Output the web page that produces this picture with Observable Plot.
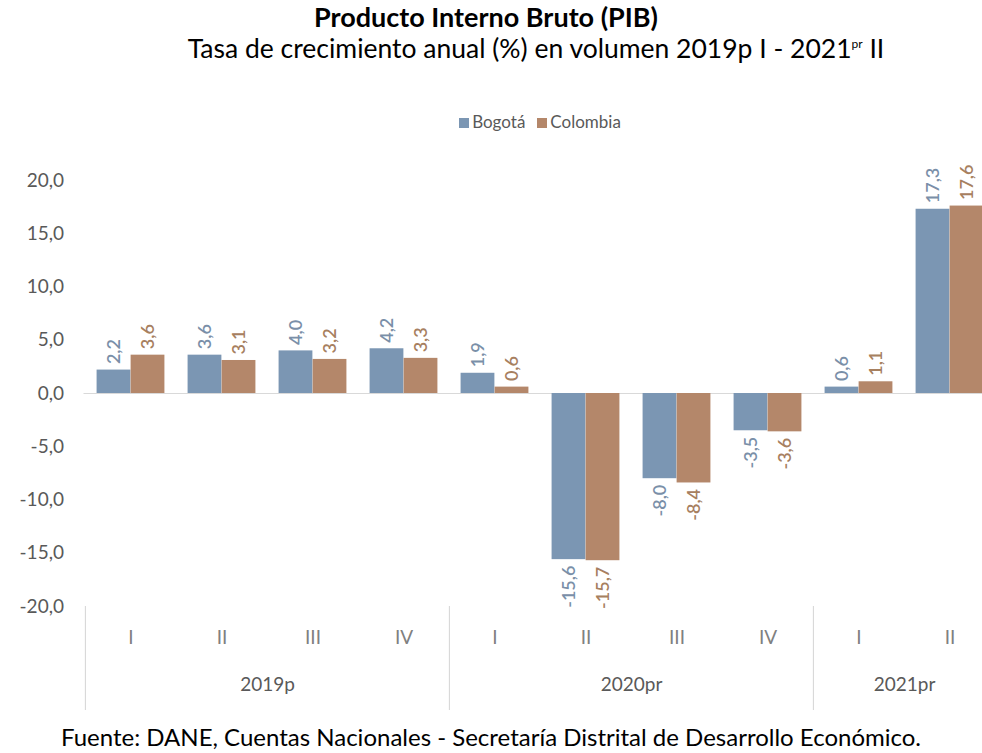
<!DOCTYPE html>
<html>
<head>
<meta charset="utf-8">
<script src="https://cdn.jsdelivr.net/npm/d3@7"></script>
<script src="https://cdn.jsdelivr.net/npm/@observablehq/plot@0.6"></script>
<style>
  html, body { margin: 0; padding: 0; background: #fff; overflow: hidden; }
  body { width: 982px; font-family: Lato, "Open Sans", sans-serif; color: #000; }
  .title { height: 30px; line-height: 34px; font-size: 27px; font-weight: bold; text-align: center; padding-right: 10px; }
  .subtitle { height: 26px; line-height: 28px; font-size: 26.5px; text-align: center; padding-left: 90px; }
  .legend { margin-top: 54px; height: 24px; line-height: 24px; display: flex; justify-content: center; padding-left: 98px; font-size: 17px; color: #595959; gap: 12px; }
  .legend span.sw { display: inline-block; width: 10px; height: 10px; margin-right: 3px; vertical-align: 0px; }
  .caption { height: 30px; line-height: 30px; font-size: 24px; text-align: center; }
  #chart svg { display: block; }
</style>
</head>
<body>
<div class="title">Producto Interno Bruto (PIB)</div>
<div class="subtitle">Tasa de crecimiento anual (%) en volumen 2019p I - 2021<sup style="font-size:12px">pr</sup> II</div>
<div class="legend" id="legend"></div>
<div id="chart"></div>
<div class="caption">Fuente: DANE, Cuentas Nacionales - Secretaría Distrital de Desarrollo Económico.</div>
<script>
// ---- data ----
const years = ["2019p","2019p","2019p","2019p","2020pr","2020pr","2020pr","2020pr","2021pr","2021pr"];
const quarters = ["I","II","III","IV","I","II","III","IV","I","II"];
const bogota = [2.2, 3.6, 4.0, 4.2, 1.9, -15.6, -8.0, -3.5, 0.6, 17.3];
const colombia = [3.6, 3.1, 3.2, 3.3, 0.6, -15.7, -8.4, -3.6, 1.1, 17.6];
const seriesNames = ["Bogotá", "Colombia"];
const seriesColors = ["#7b96b3", "#b4876a"];
const labelColors = ["#7a8fa8", "#a7805f"];
const yTicks = [-20, -15, -10, -5, 0, 5, 10, 15, 20];
const yearLabels = ["2019p", "2020pr", "2021pr"];

// ---- build table ----
const keys = years.map((y, i) => y + "-" + quarters[i] + "-" + i);
const rows = [];
keys.forEach((k, i) => {
  rows.push({key: k, series: seriesNames[0], value: bogota[i]});
  rows.push({key: k, series: seriesNames[1], value: colombia[i]});
});
const qOf = new Map(keys.map((k, i) => [k, quarters[i]]));
// year label anchors: the band just left of each group's center
const yearAnchors = yearLabels.map(y => {
  const idx = keys.map((k, i) => i).filter(i => years[i] === y);
  return {year: y, key: keys[idx[Math.floor((idx.length - 1) / 2)]]};
});
const sepKeys = yearLabels.map(y => keys[years.indexOf(y)]);

const fmt = v => d3.format(".1f")(v).replace("−", "-").replace(".", ",");

// ---- layout ----
const W = 982, mL = 83.5, mR = -13.7;
const bw = (W - mL - mR) / keys.length;
const outer = bw * 0.127, half = bw * 0.5;

// legend
document.getElementById("legend").innerHTML = seriesNames.map((s, i) =>
  `<span><span class="sw" style="background:${seriesColors[i]}"></span>${s}</span>`).join("");

const B = rows.filter(d => d.series === seriesNames[0]);
const C = rows.filter(d => d.series === seriesNames[1]);
const labelFont = {fontSize: 18, fontWeight: 600, rotate: -90, lineAnchor: "middle"};
const off = (half - outer) / 2;

const plot = Plot.plot({
  width: W,
  height: 588,
  marginLeft: mL,
  marginRight: mR,
  marginTop: 46,
  marginBottom: 116,
  style: {fontFamily: "Lato, 'Open Sans', sans-serif", overflow: "visible"},
  x: {type: "band", domain: keys, padding: 0, axis: null, label: null},
  y: {domain: [-20, 20], axis: null, label: null},
  marks: [
    Plot.ruleY([0], {stroke: "#d9d9d9", strokeWidth: 1.2}),
    Plot.barY(B, {x: "key", y: "value", fill: seriesColors[0], insetLeft: outer, insetRight: half}),
    Plot.barY(C, {x: "key", y: "value", fill: seriesColors[1], insetLeft: half, insetRight: outer}),
    // value labels
    Plot.text(B.filter(d => d.value >= 0), {x: "key", y: "value", text: d => fmt(d.value), textAnchor: "start", dy: -6, dx: -off, fill: labelColors[0], ...labelFont}),
    Plot.text(C.filter(d => d.value >= 0), {x: "key", y: "value", text: d => fmt(d.value), textAnchor: "start", dy: -6, dx: off, fill: labelColors[1], ...labelFont}),
    Plot.text(B.filter(d => d.value < 0), {x: "key", y: "value", text: d => fmt(d.value), textAnchor: "end", dy: 6, dx: -off, fill: labelColors[0], ...labelFont}),
    Plot.text(C.filter(d => d.value < 0), {x: "key", y: "value", text: d => fmt(d.value), textAnchor: "end", dy: 6, dx: off, fill: labelColors[1], ...labelFont}),
    // y axis
    Plot.axisY({ticks: yTicks, tickFormat: fmt, tickSize: 0, tickPadding: 20, fontSize: 19, fill: "#595959", stroke: "none", label: null}),
    // quarter labels
    Plot.axisX({tickSize: 0, tickPadding: 24, tickFormat: k => qOf.get(k), fontSize: 19, fill: "#808080", label: null}),
    // group separators
    Plot.axisX(sepKeys, {tickSize: 104, dx: -bw / 2, tickFormat: () => "", stroke: "#d4d4d4", label: null}),
    // year labels
    Plot.text(yearAnchors, {x: "key", text: "year", frameAnchor: "bottom", dy: 84, dx: bw / 2, fontSize: 19, fill: "#595959"})
  ]
});
document.getElementById("chart").appendChild(plot);
</script>
</body>
</html>
